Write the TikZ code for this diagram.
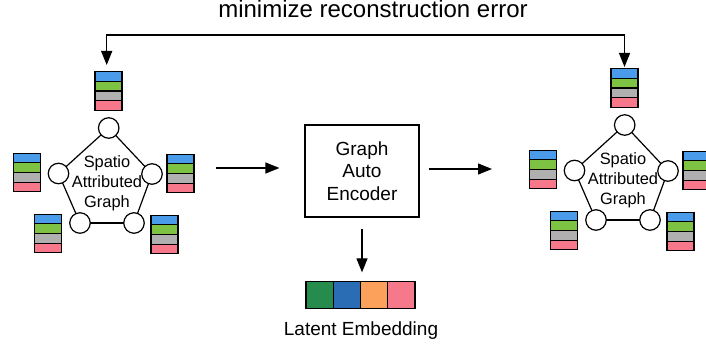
\documentclass[tikz,border=0pt]{standalone}
\usepackage{fontspec}
\setmainfont{Liberation Sans}
\usetikzlibrary{arrows.meta}
\definecolor{sblue}{HTML}{4A9BEA}
\definecolor{sgreen}{HTML}{7DC242}
\definecolor{sgray}{HTML}{B0B0B0}
\definecolor{spink}{HTML}{F7788A}
\definecolor{eg}{HTML}{268C4E}
\definecolor{eb}{HTML}{2A6DB5}
\definecolor{eo}{HTML}{FCA15B}
\definecolor{ep}{HTML}{F5788B}
\tikzset{
  bar/.style={draw, line width=1.1pt, minimum width=27pt, minimum height=9.6pt, inner sep=0pt, outer sep=0pt},
  vtx/.style={draw, fill=white, circle, line width=1.2pt, minimum size=20.5pt, inner sep=0pt, outer sep=0pt},
  edge/.style={line width=1.2pt},
  gtext/.style={align=center, font=\fontsize{16.4}{19.8}\selectfont, inner sep=0pt},
  arr/.style={line width=1.2pt, -{Triangle[length=14pt,width=11pt]}},
  arrboth/.style={line width=1.2pt, {Triangle[length=14pt,width=11pt]}-{Triangle[length=14pt,width=11pt]}},
  gae/.style={draw, line width=1.2pt, minimum width=114pt, minimum height=92pt, align=center, font=\fontsize{19}{22.5}\selectfont},
  esq/.style={draw, line width=1.2pt, minimum size=27.3pt, inner sep=0pt, outer sep=0pt},
  lbl/.style={inner sep=0pt, anchor=base},
}
\newcommand\fstack[3]{%
  \node[bar,fill=sblue] (#1-1) at (#2,#3-14.4) {};
  \node[bar,fill=sgreen] (#1-2) at (#2,#3-4.8) {};
  \node[bar,fill=sgray] (#1-3) at (#2,#3+4.8) {};
  \node[bar,fill=spink] (#1-4) at (#2,#3+14.4) {};
}
\newcommand\sgraph[1]{%
  \node[vtx] (#1t) at (108.7,128) {};
  \node[vtx] (#1l) at (58.5,173.5) {};
  \node[vtx] (#1r) at (152,174) {};
  \node[vtx] (#1bl) at (80,223) {};
  \node[vtx] (#1br) at (134,223) {};
  \draw[edge] (#1t) -- (#1l);
  \draw[edge] (#1t) -- (#1r);
  \draw[edge] (#1l) -- (#1bl);
  \draw[edge] (#1r) -- (#1br);
  \draw[edge] (#1bl) -- (#1br);
  \node[gtext] (#1txt) at (107,183) {Spatio\\Attributed\\Graph};
  \fstack{#1s1}{108.5}{91}
  \fstack{#1s2}{27}{172.5}
  \fstack{#1s3}{180.5}{173.5}
  \fstack{#1s4}{48}{233.5}
  \fstack{#1s5}{164.5}{234.5}
}
\begin{document}
\begin{tikzpicture}[x=1pt, y=-1pt]
\useasboundingbox (0,0) rectangle (706,345);
\sgraph{L}
\begin{scope}[shift={(516,-3)}]
\sgraph{R}
\end{scope}
\node[lbl, font=\fontsize{24}{28}\selectfont] (title) at (373,18) {minimize reconstruction error};
\coordinate (la) at (106.7,65);
\coordinate (ra) at (624.5,67);
\coordinate (loop) at (365,35);
\draw[arrboth] (la) |- (loop) -| (ra);
\node[gae] (box) at (362,171) {Graph\\Auto\\Encoder};
\coordinate (a1s) at (216,168);
\coordinate (a2e) at (492,169);
\draw[arr, shorten >=25pt] (a1s) -- (a1s -| box.west);
\draw[arr, shorten <=9pt] (box.east |- a2e) -- (a2e);
\node[esq, fill=eg] (e1) at (319.6,295) {};
\node[esq, fill=eb] (e2) at (346.9,295) {};
\node[esq, fill=eo] (e3) at (374.1,295) {};
\node[esq, fill=ep] (e4) at (401.4,295) {};
\draw[arr, shorten <=11pt, shorten >=9pt] (box.south) -- (box.south |- e1.north);
\node[lbl, font=\fontsize{19}{22}\selectfont] (latent) at (361,335) {Latent Embedding};
\end{tikzpicture}
\end{document}
